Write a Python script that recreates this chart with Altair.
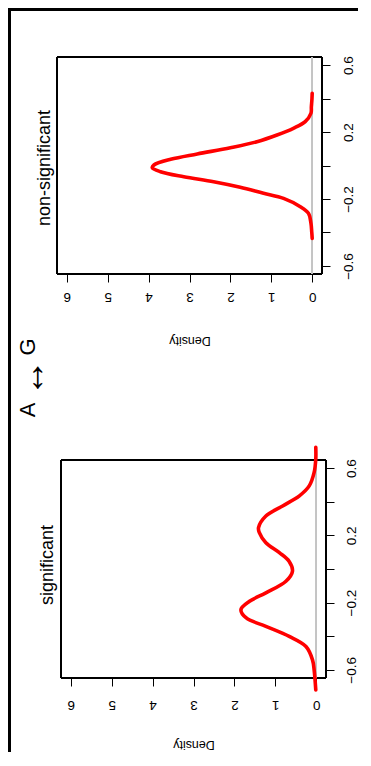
import altair as alt
import pandas as pd

# ---- text ----
main_title = "A ↔ G"
panel_titles = ["non-significant", "significant"]
axis_title = "Density"

# ---- ticks ----
density_ticks = [0, 1, 2, 3, 4, 5, 6]
value_ticks = [-0.6, -0.4, -0.2, 0.0, 0.2, 0.4, 0.6]

# ---- data ----
ns_value = [0.431, 0.40, 0.35, 0.312, 0.262, 0.222, 0.182, 0.142, 0.106, 0.069, 0.037,
            0.003, -0.013, -0.037, -0.067, -0.097, -0.130, -0.166, -0.196, -0.246,
            -0.286, -0.345, -0.40, -0.435]
ns_density = [0.0, 0.005, 0.02, 0.03, 0.17, 0.46, 0.86, 1.35, 2.0, 2.81, 3.46,
              3.87, 3.91, 3.71, 3.14, 2.41, 1.76, 1.19, 0.70, 0.29,
              0.09, 0.03, 0.01, 0.0]

sig_value = [0.724, 0.654, 0.574, 0.494, 0.435, 0.375, 0.315, 0.246, 0.216, 0.156,
             0.097, 0.045, -0.013, -0.073, -0.142, -0.192, -0.242, -0.291, -0.341,
             -0.401, -0.461, -0.540, -0.600, -0.719]
sig_density = [0.01, 0.01, 0.05, 0.17, 0.41, 0.82, 1.23, 1.41, 1.39, 1.23,
               0.90, 0.66, 0.58, 0.74, 1.23, 1.63, 1.84, 1.71, 1.23,
               0.66, 0.25, 0.09, 0.05, 0.01]

W, H = 350, 744
FONT = "Liberation Sans"
D_DOM = [-0.24, 6.24]
V_DOM = [-0.648, 0.648]

LABEL_EXPR = ("abs(datum.value) > 0.5 || abs(abs(datum.value) - 0.2) < 0.01 "
              "? datum.label : ''")


def panel(values, dens, bx0, bx1, by0, by1, xlabpad, ylabpad):
    df = pd.DataFrame({"value": values, "density": dens})
    xs = alt.Scale(domain=D_DOM, range=[bx1, bx0], nice=False, zero=False)
    ys = alt.Scale(domain=V_DOM, range=[by1, by0], nice=False, zero=False)
    xaxis = alt.Axis(
        orient="bottom", offset=by1 - H, values=density_ticks, format="d",
        domain=False, grid=False, ticks=True, tickSize=8, tickColor="black",
        tickWidth=1, labelAngle=180, labelAlign="center",
        labelBaseline="alphabetic", labelPadding=xlabpad, labelFont=FONT,
        labelFontSize=13.5, labelColor="black", labelOverlap=False,
        labelFlush=False, title=axis_title, titleAngle=180,
        titleBaseline="alphabetic", titleAlign="center", titleFont=FONT,
        titleFontSize=12.5, titleFontWeight="normal", titleColor="black",
        titleX=(bx0 + bx1) / 2, titleY=62.7)
    yaxis = alt.Axis(
        orient="right", offset=bx1 - W, values=value_ticks, format=".1f",
        labelExpr=LABEL_EXPR, domain=False, grid=False, ticks=True,
        tickSize=8, tickColor="black", tickWidth=1, labelAngle=270,
        labelAlign="center", labelBaseline="top", labelPadding=ylabpad,
        labelFont=FONT, labelFontSize=13.5, labelColor="black",
        labelOverlap=False, labelFlush=False, title=None)

    box = alt.Chart(df).mark_rect(fillOpacity=0, stroke="black", strokeWidth=1).encode(
        x=alt.X(datum=D_DOM[0], scale=xs), x2=alt.X2(datum=D_DOM[1]),
        y=alt.Y(datum=V_DOM[0], scale=ys), y2=alt.Y2(datum=V_DOM[1]))
    zero = alt.Chart(df).mark_rule(color="#c4c4c4", strokeWidth=1).encode(
        x=alt.X(datum=0, scale=xs), y=alt.Y(datum=V_DOM[0], scale=ys),
        y2=alt.Y2(datum=V_DOM[1]))
    curve = alt.Chart(df).mark_line(
        color="#ff0000", strokeWidth=3.6, interpolate="catmull-rom",
        strokeCap="round").encode(
        x=alt.X("density:Q", scale=xs, axis=xaxis),
        y=alt.Y("value:Q", scale=ys, axis=yaxis),
        order=alt.Order("value:Q"))
    return alt.layer(box, zero, curve)


top = panel(ns_value, ns_density, 49, 314, 49, 266, 10, 11)
bottom = panel(sig_value, sig_density, 53, 318, 452, 670, 14, 10)


def label(txt, x, y, size, font=FONT):
    return alt.Chart(pd.DataFrame({"t": [txt]})).mark_text(
        angle=270, font=font, fontSize=size, align="center", baseline="middle",
        color="black").encode(x=alt.value(x), y=alt.value(y), text="t:N")


one = pd.DataFrame({"k": [0]})
frame_left = alt.Chart(one).mark_rect(color="black").encode(
    x=alt.value(0), x2=alt.value(3), y=alt.value(0), y2=alt.value(H))
frame_top = alt.Chart(one).mark_rect(color="black").encode(
    x=alt.value(0), x2=alt.value(W), y=alt.value(0), y2=alt.value(3))

t_a, t_arrow, t_g = main_title.split(" ")

chart = alt.layer(
    top, bottom, frame_left, frame_top,
    label(panel_titles[0], 37, 160, 18),
    label(panel_titles[1], 40, 557, 18),
    label(t_a, 20, 402, 22),
    label(t_arrow, 25, 370, 38),
    label(t_g, 20, 339, 22),
).resolve_scale(x="independent", y="independent").properties(
    width=W, height=H, padding=0,
    autosize=alt.AutoSizeParams(type="none"),
).configure_view(stroke="transparent")

chart.save("out.html", embed_options={"renderer": "svg", "actions": False})
